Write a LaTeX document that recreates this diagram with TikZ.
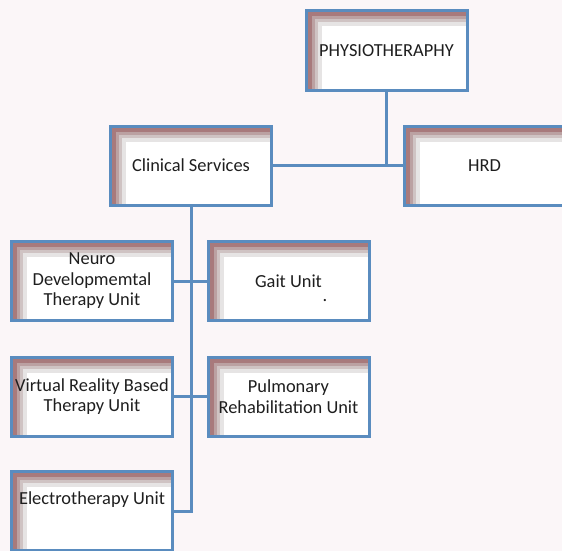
\documentclass[tikz,border=0pt]{standalone}
\usepackage{fontspec}
\setmainfont{Carlito}
\definecolor{boxblue}{HTML}{5A8CBF}
\definecolor{bgpink}{HTML}{FBF6F8}
\definecolor{sa}{HTML}{A87A7C}
\definecolor{sb}{HTML}{BBA1A2}
\definecolor{sc}{HTML}{CFC3C3}
\definecolor{sd}{HTML}{E6E4E4}
\definecolor{txt}{HTML}{1E1E1E}
\tikzset{
  unitbox/.style={draw=boxblue, line width=3pt, fill=white, minimum width=161pt, minimum height=79pt,
    inner sep=0pt, align=center, text=txt, font=\fontsize{18.4}{20.5}\selectfont,
    path picture={
      \foreach \o/\c in {1.5/sa,5.5/sb,8.5/sc,11.5/sd,15.5/white}{
        \fill[\c] ([shift={(\o pt,-\o pt)}]path picture bounding box.north west) rectangle (path picture bounding box.south east);
      }
    }},
  conn/.style={draw=boxblue, line width=3pt}
}
\begin{document}
\begin{tikzpicture}[x=1pt,y=-1pt]
\fill[bgpink] (0,0) rectangle (562,551);
\useasboundingbox (0,0) rectangle (562,551);
\clip (0,0) rectangle (562,551);
\node[unitbox] (physio) at (386.5,50.5) {PHYSIOTHERAPHY};
\node[unitbox] (hrd) at (484.5,165.5) {HRD};
\node[unitbox] (clin) at (191,165.5) {Clinical Services};
\node[unitbox] (neuro) at (92,281) {Neuro\\Developmemtal\\Therapy Unit};
\node[unitbox] (gait) at (288.5,281) {Gait Unit};
\node[unitbox] (vr) at (92,396.5) {Virtual Reality Based\\Therapy Unit};
\node[unitbox] (pulm) at (288.5,396.5) {Pulmonary\\Rehabilitation Unit};
\node[unitbox] (elec) at (92,511) {Electrotherapy Unit\\[6pt]};
\node[text=txt, font=\fontsize{18.4}{20.5}\selectfont, inner sep=0pt, anchor=base] (gaitdot) at (325,301) {.};
\draw[conn] (clin.east) -- (hrd.west);
\draw[conn] (physio.south) -- (physio.south |- clin.east);
\draw[conn] (clin.south) |- (elec.east);
\draw[conn] (neuro.east) -- (gait.west);
\draw[conn] (vr.east) -- (pulm.west);
\end{tikzpicture}
\end{document}
